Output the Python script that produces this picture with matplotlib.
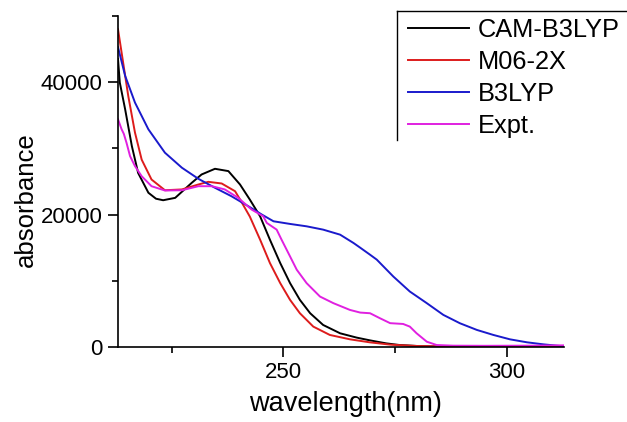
import numpy as np
import matplotlib
matplotlib.use("Agg")
import matplotlib.pyplot as plt
from matplotlib.lines import Line2D

plt.rcParams['font.family'] = ['Liberation Sans', 'DejaVu Sans']

# данные
cam_x = [213, 213.4, 214.6, 216.1, 217.5, 219.8, 221.5, 223.1, 225.8, 229.5, 231.7, 234.7, 237.7,
         240.3, 242.5, 244.8, 247, 249.3, 251.5, 253.7, 256, 258.9, 262.7, 266.4, 269.4, 273, 276,
         280, 285, 290, 300, 313]
cam_y = [43500, 39950, 35900, 30350, 26300, 23300, 22400, 22170, 22530, 24800, 26060, 26920, 26570,
         24550, 22270, 19740, 16200, 12680, 9650, 7120, 5100, 3330, 2070, 1420, 1000, 550, 300,
         150, 60, 25, 10, 0]

m06_x = [213, 213.8, 215.3, 216.8, 218.3, 220.5, 223.5, 227.3, 231, 233.2, 236.2, 239.2, 240.3,
         242.5, 244.8, 247, 249.3, 251.5, 253.7, 256.7, 260.4, 264.9, 269.4, 274, 280, 290, 300, 313]
m06_y = [48000, 44500, 37900, 32380, 28300, 25300, 23680, 23800, 24550, 24950, 24700, 23530, 22300,
         19700, 16210, 12680, 9650, 7120, 5100, 3080, 1820, 1160, 700, 350, 150, 40, 10, 0]

b3_x = [213, 214.6, 216.8, 219.8, 223.5, 227.3, 231, 234.7, 238.4, 242.2, 245.2, 247.8, 251.5,
        255.2, 258.9, 262.7, 265.7, 267.2, 269.4, 270.9, 274.6, 278.3, 282.1, 285.8, 289.5,
        293.3, 297, 300.7, 304.5, 308.2, 312, 313]
b3_y = [45300, 40960, 36920, 32880, 29350, 27080, 25400, 24050, 22770, 21250, 20000, 18990, 18590,
        18230, 17730, 16970, 15710, 15000, 13940, 13200, 10650, 8380, 6620, 4850, 3590,
        2580, 1820, 1160, 710, 400, 150, 120]

exp_x = [213, 213.8, 214.3, 214.9, 215.7, 216.8, 218.3, 220.5, 223.5, 227.3, 231, 234, 236.9,
         239.9, 242.9, 245.5, 246.3, 248.5, 249.6, 251.5, 253, 255.2, 258.2, 261.2, 264.9, 267.2,
         269.4, 271.6, 273.9, 276.8, 278.3, 279.8, 282.1, 284.3, 288, 295, 305, 313]
exp_y = [34400, 32900, 32200, 30860, 28830, 27320, 25800, 24290, 23640, 23680, 24290, 24290, 23800,
         22530, 20760, 19740, 18740, 17730, 16210, 13680, 11670, 9650, 7620, 6620, 5600, 5200,
         5100, 4350, 3600, 3480, 3080, 2080, 800, 300, 200, 180, 200, 250]

series = [
    (cam_x, cam_y, 'CAM-B3LYP', '#000000'),
    (m06_x, m06_y, 'M06-2X', '#dd1c1c'),
    (b3_x, b3_y, 'B3LYP', '#1a1acc'),
    (exp_x, exp_y, 'Expt.', '#e020e0'),
]

fig = plt.figure(figsize=(6.27, 4.22), dpi=100)
ax = fig.add_axes([118 / 627, 1 - 347 / 422, 446 / 627, 331 / 422])

handles = []
for x, y, name, c in series:
    ln, = ax.plot(x, y, color=c, lw=1.4, label=name, solid_joinstyle='round')
    handles.append(ln)

ax.set_xlim(213, 312.8)
ax.set_ylim(0, 50000)
ax.set_xticks([250, 300])
ax.set_xticks([225, 275], minor=True)
ax.set_yticks([0, 20000, 40000])
ax.set_yticks([10000, 30000, 50000], minor=True)
ax.spines['top'].set_visible(False)
ax.spines['right'].set_visible(False)
for s in ('left', 'bottom'):
    ax.spines[s].set_linewidth(1.2)
ax.tick_params(which='major', direction='out', length=7, width=1.2, labelsize=16, pad=4)
ax.tick_params(which='minor', direction='out', length=4, width=1.2)

ax.set_xlabel('wavelength(nm)', fontsize=19.5)
ax.set_ylabel('absorbance', fontsize=18.5)
ax.xaxis.set_label_coords(0.509, -0.133)
ax.yaxis.set_label_coords(-0.18, 0.444)

fig.legend(handles=handles, loc='upper left', bbox_to_anchor=(408 / 627, 1 - 18 / 422),
           frameon=False, fontsize=18.3, borderpad=0, borderaxespad=0,
           handlelength=2.4, handletextpad=0.35, labelspacing=0.31)
# рамка легенды: только левая и верхняя линии
fig.add_artist(Line2D([397 / 627, 397 / 627], [1 - 140 / 422, 1 - 11 / 422], color='black', lw=1.0))
fig.add_artist(Line2D([397 / 627, 1.0], [1 - 11 / 422, 1 - 11 / 422], color='black', lw=1.0))

fig.savefig('out.png', dpi=100)
